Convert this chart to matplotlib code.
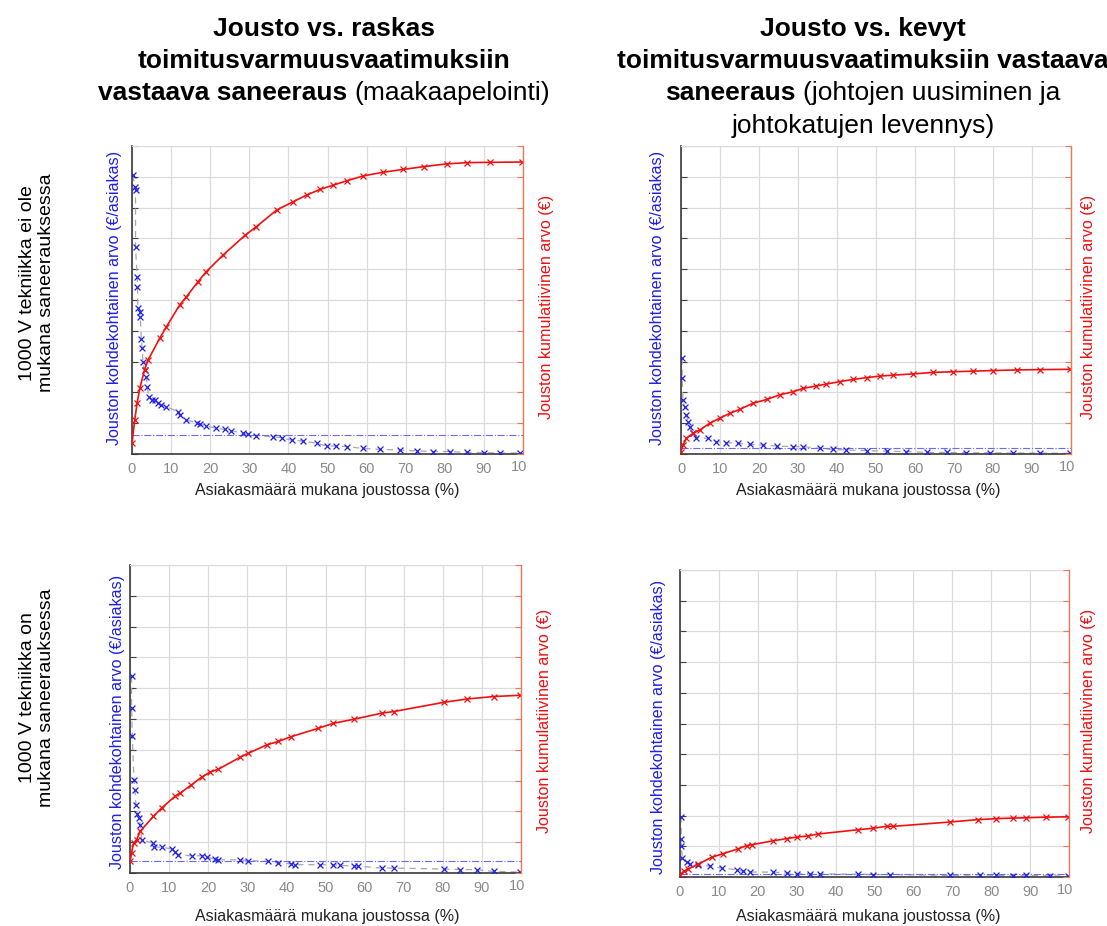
"""Jousto vs. saneeraus: 2x2 grid of per-customer and cumulative flexibility value."""

import matplotlib

matplotlib.use("Agg")

import matplotlib.pyplot as plt
from matplotlib.transforms import Bbox, TransformedBbox

plt.rcParams["font.family"] = ["Liberation Sans", "DejaVu Sans"]

W, H = 1107, 926

# --- data (y in grid units 0..10) -------------------------------------------
tl_red_x = [0, 0.7, 1.3, 2.0, 3.2, 4.1, 7.1, 8.8, 12.2, 13.9, 16.9, 19.0, 23.3, 28.9,
            31.8, 37.0, 41.2, 44.7, 48.1, 51.5, 54.9, 59.2, 64.3, 69.4, 74.6, 80.5,
            85.7, 91.6, 99.7]
tl_red_y = [0.35, 1.1, 1.65, 2.13, 2.73, 3.05, 3.76, 4.13, 4.84, 5.1, 5.6, 5.92, 6.46,
            7.1, 7.38, 7.92, 8.19, 8.41, 8.59, 8.73, 8.87, 9.03, 9.15, 9.24, 9.33, 9.42,
            9.46, 9.47, 9.48]
tl_blue_x = [0.26, 0.7, 0.9, 0.9, 1.3, 1.4, 1.5, 2.0, 2.1, 2.4, 2.6, 2.8, 3.2, 3.7, 3.9,
             4.3, 5.0, 5.8, 6.6, 7.5, 8.8, 11.8, 12.2, 13.9, 16.5, 17.3, 19.0, 21.6,
             23.7, 25.4, 28.4, 29.7, 31.8, 36.1, 38.3, 40.8, 43.8, 47.2, 49.8, 52.3,
             54.9, 59.2, 63.4, 68.6, 72.8, 77.1, 81.4, 85.7, 89.9, 94.2, 99.3]
tl_blue_y = [9.06, 8.68, 8.57, 6.73, 5.76, 5.43, 4.73, 4.62, 4.46, 3.72, 3.43, 3.0, 2.73,
             2.51, 2.19, 1.86, 1.75, 1.75, 1.65, 1.59, 1.54, 1.37, 1.27, 1.10, 1.02, 0.97,
             0.91, 0.83, 0.80, 0.76, 0.67, 0.64, 0.60, 0.56, 0.53, 0.45, 0.42, 0.35, 0.26,
             0.26, 0.24, 0.18, 0.15, 0.13, 0.10, 0.08, 0.08, 0.05, 0.04, 0.03, 0.03]
tl_level = 0.62

tr_red_x = [0, 0.5, 1.4, 3.1, 4.8, 7.4, 9.9, 12.5, 15.1, 18.5, 22.0, 25.3, 28.7, 31.3,
            34.7, 37.3, 40.7, 44.1, 47.6, 51.0, 54.4, 59.5, 64.7, 69.8, 74.9, 80.1,
            86.1, 92.0, 99.7]
tr_red_y = [0.08, 0.29, 0.51, 0.67, 0.78, 1.0, 1.16, 1.32, 1.45, 1.65, 1.77, 1.92, 2.02,
            2.13, 2.21, 2.27, 2.35, 2.42, 2.48, 2.53, 2.56, 2.60, 2.65, 2.67, 2.69, 2.71,
            2.73, 2.74, 2.75]
tr_blue_x = [0.3, 0.3, 0.5, 0.9, 1.4, 1.8, 2.2, 3.1, 3.9, 6.9, 9.1, 11.6, 14.6, 17.6,
             21.0, 24.5, 28.7, 31.3, 35.6, 39.0, 42.4, 47.6, 52.7, 57.8, 63.0, 68.1,
             73.2, 79.2, 85.2, 92.0, 99.7]
tr_blue_y = [3.11, 2.46, 1.75, 1.54, 1.27, 1.05, 0.87, 0.67, 0.53, 0.51, 0.40, 0.37, 0.35,
             0.31, 0.29, 0.26, 0.24, 0.24, 0.18, 0.15, 0.13, 0.11, 0.09, 0.08, 0.05, 0.05,
             0.04, 0.04, 0.03, 0.03, 0.02]
tr_level = 0.18

bl_red_x = [0, 0.4, 0.9, 1.7, 2.6, 6.0, 8.1, 11.5, 12.8, 15.7, 18.3, 20.5, 22.6, 28.2,
            30.3, 35.0, 37.9, 41.3, 48.2, 52.0, 57.2, 64.4, 67.4, 80.2, 86.2, 93.0, 99.8]
bl_red_y = [0.38, 0.65, 0.97, 1.08, 1.35, 1.84, 2.11, 2.49, 2.59, 2.86, 3.11, 3.28, 3.37,
            3.76, 3.89, 4.16, 4.27, 4.43, 4.70, 4.86, 4.99, 5.19, 5.24, 5.54, 5.65, 5.73,
            5.77]
bl_blue_x = [0.4, 0.4, 0.6, 1.0, 1.3, 1.5, 1.9, 2.4, 2.6, 3.0, 5.8, 6.1, 8.1, 10.7, 11.5,
             12.4, 15.8, 18.3, 19.6, 21.8, 22.6, 28.2, 30.3, 35.4, 37.9, 41.3, 42.2, 48.6,
             52.0, 53.8, 57.2, 58.4, 64.4, 67.4, 80.2, 84.5, 88.7, 93.0, 99.8]
bl_blue_y = [6.38, 5.37, 4.45, 3.03, 2.68, 2.22, 1.92, 1.78, 1.57, 1.08, 0.97, 0.84, 0.84,
             0.78, 0.67, 0.59, 0.56, 0.56, 0.52, 0.45, 0.43, 0.43, 0.40, 0.38, 0.32, 0.30,
             0.27, 0.27, 0.27, 0.25, 0.22, 0.22, 0.16, 0.16, 0.13, 0.11, 0.11, 0.05, 0.03]
bl_level = 0.40

br_red_x = [0, 0.9, 2.1, 4.7, 8.1, 11.1, 15.0, 17.1, 18.4, 24.0, 27.4, 30.0, 33.0, 35.5,
            45.8, 49.7, 53.1, 54.8, 69.3, 76.6, 81.3, 85.6, 89.0, 94.2, 99.7]
br_red_y = [0.08, 0.18, 0.26, 0.42, 0.64, 0.76, 0.92, 1.02, 1.05, 1.18, 1.25, 1.30, 1.34,
            1.40, 1.54, 1.59, 1.65, 1.65, 1.79, 1.87, 1.90, 1.92, 1.93, 1.95, 1.96]
br_blue_x = [0.3, 0.3, 0.3, 0.6, 1.7, 2.6, 4.7, 7.7, 10.7, 14.6, 16.3, 18.0, 24.0, 27.4,
             30.0, 33.4, 36.0, 45.8, 49.7, 53.9, 69.3, 77.1, 81.3, 85.6, 89.0, 95.0, 99.7]
br_blue_y = [1.97, 1.24, 1.02, 0.62, 0.48, 0.43, 0.40, 0.35, 0.29, 0.24, 0.18, 0.16, 0.16,
             0.13, 0.11, 0.11, 0.10, 0.09, 0.08, 0.08, 0.05, 0.07, 0.05, 0.04, 0.05, 0.04,
             0.02]
br_level = 0.11

x_ticks = [0, 10, 20, 30, 40, 50, 60, 70, 80, 90, 100]
x_ticklabels = ["0", "10", "20", "30", "40", "50", "60", "70", "80", "90", ""]

xlabel = "Asiakasmäärä mukana joustossa (%)"
ylabel_left = "Jouston kohdekohtainen arvo (€/asiakas)"
ylabel_right = "Jouston kumulatiivinen arvo (€)"

titles = [
    [[("Jousto vs. raskas", "bold")],
     [("toimitusvarmuusvaatimuksiin", "bold")],
     [("vastaava saneeraus", "bold"), ("(maakaapelointi)", "normal")]],
    [[("Jousto vs. kevyt", "bold")],
     [("toimitusvarmuusvaatimuksiin vastaava", "bold")],
     [("saneeraus", "bold"), ("(johtojen uusiminen ja", "normal")],
     [("johtokatujen levennys)", "normal")]],
]
row_labels = ["1000 V tekniikka ei ole\nmukana saneerauksessa",
              "1000 V tekniikka on\nmukana saneerauksessa"]

BLUE = "#1f1fe6"
RED = "#f01010"
ORANGE = "#e87a5a"
GRID = "#dcdcdc"


def px_box(left, top, right, bottom):
    return [left / W, 1 - bottom / H, (right - left) / W, (bottom - top) / H]


def draw_panel(fig, box, red_x, red_y, blue_x, blue_y, level, lab_pos, tick_y_px):
    ax = fig.add_axes(box)
    ax.set_xlim(0, 100)
    ax.set_ylim(0, 10)
    ax.set_xticks(x_ticks)
    ax.set_xticklabels(x_ticklabels)
    ax.set_yticks(range(11))
    ax.tick_params(axis="y", direction="in", length=4, color="#404040", labelleft=False)
    ax.tick_params(axis="x", direction="in", length=0, labelsize=10.5,
                   labelcolor="#8a8a8a", pad=6)
    ax.grid(True, color=GRID, linewidth=0.9)
    ax.set_axisbelow(True)
    for side in ("left", "bottom"):
        ax.spines[side].set_color("#3a3a3a")
        ax.spines[side].set_linewidth(1.2)
    ax.spines["top"].set_color(GRID)
    ax.spines["right"].set_visible(False)

    ax.plot(blue_x, blue_y, color="#a8a8a8", linewidth=0.9, linestyle=(0, (5, 4)))
    ax.scatter(blue_x, blue_y, marker="x", s=18, color=BLUE, linewidths=0.9, zorder=3)
    ax.axhline(level, color="#6a6aff", linewidth=0.8, linestyle="-.")

    tw = ax.twinx()
    tw.set_ylim(0, 10)
    tw.set_yticks(range(11))
    tw.tick_params(axis="y", direction="in", length=4, color=ORANGE, labelright=False)
    for side in ("left", "bottom", "top"):
        tw.spines[side].set_visible(False)
    tw.spines["right"].set_color(ORANGE)
    tw.spines["right"].set_linewidth(1.0)
    tw.plot(red_x, red_y, color=RED, linewidth=1.2, marker="x", markersize=5,
            markeredgewidth=0.9)

    lx, ly, rx, ry = lab_pos
    ax.text(lx, ly, ylabel_left, transform=ax.transAxes, rotation=90, ha="center",
            va="center", fontsize=11.6, color=BLUE)
    ax.text(rx, ry, ylabel_right, transform=ax.transAxes, rotation=90, ha="center",
            va="center", fontsize=11.6, color=RED)

    # the "100" label is cut at the right edge in the reference
    x0, y0, bw, bh = box
    t = fig.text(x0 + bw, 1 - tick_y_px / H, "100", ha="center", va="center",
                 fontsize=10.5, color="#8a8a8a")
    clip = Bbox([[x0, 1 - (tick_y_px + 12) / H], [x0 + bw + 3 / W, 1 - (tick_y_px - 12) / H]])
    t.set_clip_box(TransformedBbox(clip, fig.transFigure))
    t.set_clip_on(True)
    return ax


def mixed_title(fig, renderer, xc, baselines, lines, size):
    gap = 0.278 * size * fig.dpi / 72
    for y_px, parts in zip(baselines, lines):
        texts = [fig.text(0, 1 - y_px / H, s, fontsize=size, fontweight=w,
                          ha="left", va="baseline") for s, w in parts]
        widths = [t.get_window_extent(renderer).width for t in texts]
        total = sum(widths) + gap * (len(texts) - 1)
        x = xc - total / 2
        for t, w in zip(texts, widths):
            t.set_x(x / W)
            x += w + gap


def main() -> None:
    fig = plt.figure(figsize=(W / 100, H / 100), dpi=100)
    renderer = fig.canvas.get_renderer()

    draw_panel(fig, px_box(132, 146, 523, 454), tl_red_x, tl_red_y, tl_blue_x, tl_blue_y,
               tl_level, (-0.044, 0.508, 1.059, 0.477), 467)
    draw_panel(fig, px_box(681, 146, 1071, 454), tr_red_x, tr_red_y, tr_blue_x, tr_blue_y,
               tr_level, (-0.059, 0.508, 1.046, 0.477), 467)
    draw_panel(fig, px_box(130, 565, 521, 873), bl_red_x, bl_red_y, bl_blue_x, bl_blue_y,
               bl_level, (-0.033, 0.49, 1.06, 0.494), 886)
    draw_panel(fig, px_box(680, 570, 1069, 877), br_red_x, br_red_y, br_blue_x, br_blue_y,
               br_level, (-0.055, 0.49, 1.051, 0.508), 890)

    for xc, y in ((327, 490), (868, 490), (327, 916), (868, 916)):
        fig.text(xc / W, 1 - y / H, xlabel, ha="center", va="center", fontsize=11.5,
                 color="#222222")

    mixed_title(fig, renderer, 324, [36, 68, 100], titles[0], 19)
    mixed_title(fig, renderer, 863, [36, 68, 100, 133], titles[1], 19)

    for yc, label in zip((283, 698), row_labels):
        fig.text(37 / W, 1 - yc / H, label, rotation=90, ha="center", va="center",
                 fontsize=14, multialignment="center", linespacing=1.15)

    fig.savefig("out.png", dpi=100)
    plt.close(fig)


if __name__ == "__main__":
    main()
